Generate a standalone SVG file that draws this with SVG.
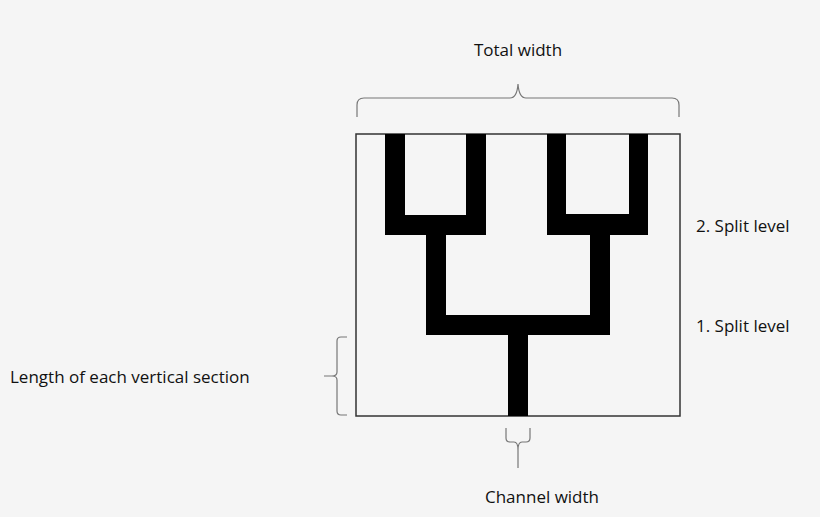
<svg xmlns="http://www.w3.org/2000/svg" width="820" height="517" viewBox="0 0 820 517">
<style>
text{font-family:"Open Sans","Liberation Sans",sans-serif;font-size:17px;fill:#111}
.br{fill:none;stroke:#777;stroke-width:1.2}
.ch{fill:#000}
</style>
<rect width="820" height="517" fill="#f5f5f5"/>
<g id="box"><rect x="356" y="134" width="324" height="282" fill="#f5f5f5" stroke="#333" stroke-width="1.5"/></g>
<g id="channels">
<path class="ch" d="M385 134h20v81h61v-81h20v101h-101z"/>
<path class="ch" d="M547 134h19v80h63v-80h19v101h-101z"/>
<rect class="ch" x="426" y="235" width="20" height="80"/>
<rect class="ch" x="590" y="235" width="20" height="80"/>
<rect class="ch" x="426" y="315" width="184" height="20"/>
<rect class="ch" x="508" y="335" width="20" height="81"/>
</g>
<g id="connectors">
<path class="br" d="M357 117v-12q0-7 7-7h146q7 0 8-14q1 14 8 14h146q7 0 7 7v12"/>
<path class="br" d="M347 337h-6q-4 0-4 4v31q0 4-5 4h-8M332 376q5 0 5 4v31q0 4 4 4h6"/>
<path class="br" d="M506 428v10q0 4 4 4h4q4 0 4 8v18M530 428v10q0 4-4 4h-4q-4 0-4 8"/>
</g>
<g id="labels">
<text x="518" y="56" text-anchor="middle">Total width</text>
<text x="696" y="232">2. Split level</text>
<text x="696" y="332">1. Split level</text>
<text x="10" y="383">Length of each vertical section</text>
<text x="542" y="503" text-anchor="middle">Channel width</text>
</g>
</svg>
